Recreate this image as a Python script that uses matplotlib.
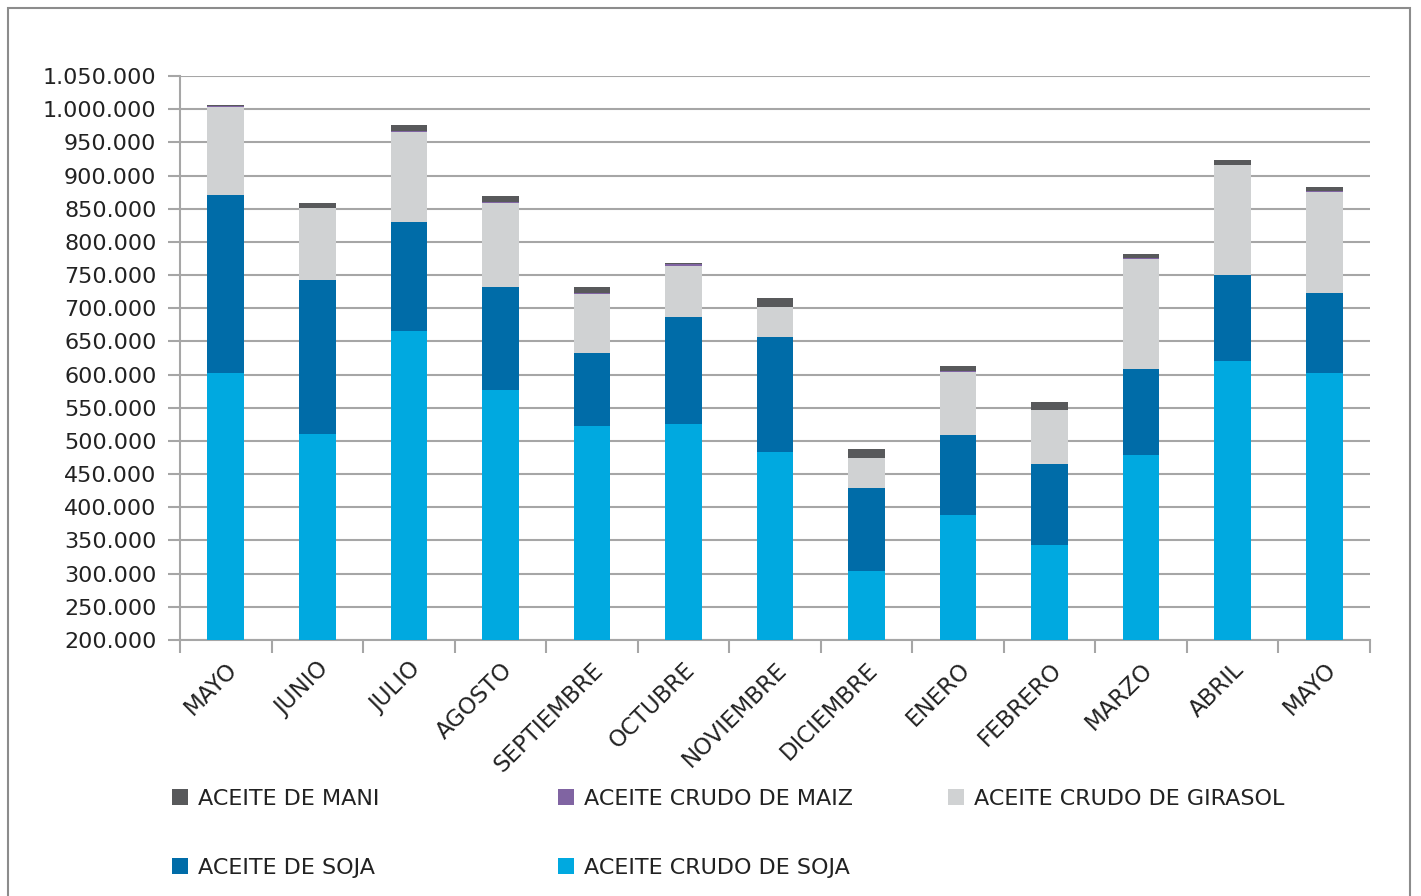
import matplotlib
matplotlib.use("Agg")
import matplotlib.pyplot as plt
import numpy as np
from matplotlib.ticker import FuncFormatter, MultipleLocator
from matplotlib.patches import Rectangle, Patch

months = ["MAYO", "JUNIO", "JULIO", "AGOSTO", "SEPTIEMBRE", "OCTUBRE", "NOVIEMBRE",
          "DICIEMBRE", "ENERO", "FEBRERO", "MARZO", "ABRIL", "MAYO"]

aceite_crudo_soja = [602500, 510000, 665000, 577000, 522000, 525700, 484000,
                     304400, 388700, 343000, 479500, 621000, 602600]
aceite_soja = [268100, 233000, 165400, 155500, 110700, 161600, 173000,
               125000, 120900, 122500, 129000, 128500, 120900]
aceite_crudo_girasol = [132000, 108000, 135100, 126500, 88800, 76400, 44400,
                        44600, 94900, 81300, 165000, 166300, 151500]
aceite_crudo_maiz = [2000, 500, 1500, 1000, 1500, 3000, 300,
                     1000, 1500, 300, 1500, 500, 1000]
aceite_mani = [1400, 7000, 9000, 9600, 9000, 1300, 13800,
               12500, 7000, 12000, 6400, 6400, 6700]

series = [
    ("ACEITE CRUDO DE SOJA", aceite_crudo_soja, "#00A9E0"),
    ("ACEITE DE SOJA", aceite_soja, "#006CA8"),
    ("ACEITE CRUDO DE GIRASOL", aceite_crudo_girasol, "#D0D2D3"),
    ("ACEITE CRUDO DE MAIZ", aceite_crudo_maiz, "#8064A2"),
    ("ACEITE DE MANI", aceite_mani, "#58595B"),
]

plt.rcParams['font.family'] = ['DejaVu Sans']
FS = 16

fig = plt.figure(figsize=(14.21, 8.96), dpi=100)
ax = fig.add_axes([180/1421, 1-640/896, (1370-180)/1421, (640-76)/896])

x = np.arange(len(months))
bottom = np.zeros(len(months))
handles = {}
for name, vals, col in series:
    v = np.array(vals, dtype=float)
    ax.bar(x, v, 0.4, bottom=bottom, color=col, linewidth=0, zorder=3)
    handles[name] = Patch(facecolor=col, edgecolor="none")
    bottom += v

ax.set_xlim(-0.5, len(months) - 0.5)
ax.set_ylim(200000, 1050000)
ax.yaxis.set_major_locator(MultipleLocator(50000))
ax.yaxis.set_major_formatter(FuncFormatter(lambda v, p: f"{int(round(v)):,}".replace(",", ".")))
ax.grid(axis="y", color="#A6A6A6", linewidth=1.5, zorder=0)
ax.set_axisbelow(True)

for s in ["top", "right"]:
    ax.spines[s].set_visible(False)
for s in ["left", "bottom"]:
    ax.spines[s].set_color("#A6A6A6")
    ax.spines[s].set_linewidth(1.5)

ax.set_xticks(x)
ax.set_xticklabels(months, rotation=45, ha="right", va="top", rotation_mode="anchor",
                   fontsize=16.5, color="#222222")
ax.tick_params(axis="x", which="major", length=0, pad=13)
ax.set_xticks(np.arange(-0.5, len(months), 1), minor=True)
ax.tick_params(axis="x", which="minor", length=9, color="#A6A6A6", width=1.5)
ax.tick_params(axis="y", which="major", length=9, color="#A6A6A6", width=1.5,
               labelsize=FS, labelcolor="#222222", pad=8)

leg_cols = [
    (["ACEITE DE MANI", "ACEITE DE SOJA"], 172/1421),
    (["ACEITE CRUDO DE MAIZ", "ACEITE CRUDO DE SOJA"], 558/1421),
    (["ACEITE CRUDO DE GIRASOL"], 948/1421),
]
for names, xpos in leg_cols:
    leg = fig.legend([handles[n] for n in names], names, loc="upper left",
                     bbox_to_anchor=(xpos, 1-789/896), frameon=False, fontsize=FS,
                     handlelength=0.7, handleheight=0.7, handletextpad=0.45,
                     labelspacing=2.2, borderaxespad=0, borderpad=0)
    for t in leg.get_texts():
        t.set_color("#222222")

fig.patches.append(Rectangle((8/1421, -0.01), (1410-8)/1421, 1-8/896+0.01,
                             transform=fig.transFigure, fill=False,
                             edgecolor="#8C8C8C", linewidth=1.5))

fig.savefig("out.png", dpi=100)
